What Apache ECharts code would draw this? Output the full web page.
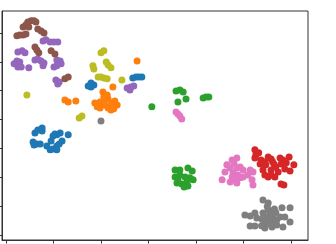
<!DOCTYPE html>
<html>
<head>
<meta charset="utf-8">
<script src="https://cdn.jsdelivr.net/npm/echarts@6/dist/echarts.min.js"></script>
<style>html,body{margin:0;padding:0;background:#fff}#c{width:336px;height:244px}</style>
</head>
<body>
<div id="c"></div>
<script>
const xTicks = [0, 10, 20, 30, 40, 50, 60];
const yTicks = [0, 10, 20, 30, 40, 50, 60, 70];
const seriesNames = ['blue', 'orange', 'green', 'red', 'purple', 'brown', 'pink', 'gray', 'olive'];
const colors = ['#1f77b4', '#ff7f0e', '#2ca02c', '#d62728', '#9467bd', '#8c564b', '#e377c2', '#7f7f7f', '#bcbd22'];

const blue = [[17.3,51.6],[17.9,52.7],[18.5,52.0],[17.9,51.3],[26.7,54.4],[27.4,54.7],[28.0,54.7],[28.6,54.7],
  [6.7,36.4],[7.6,36.0],[7.6,37.1],[6.1,35.3],[5.7,32.2],[6.5,31.5],[5.9,31.2],[7.2,31.5],[8.6,30.8],[9.3,29.5],
  [9.9,29.8],[10.7,30.8],[11.2,31.5],[11.8,32.6],[10.7,34.7],[9.9,34.3],[10.3,35.0],[11.4,35.3],[13.1,34.7],[9.5,32.6],[10.7,29.5]];
const orange = [[27.6,60.3],[22.5,51.3],[12.4,46.8],[13.1,46.1],[14.7,46.4],[20.4,49.5],[21.3,48.5],[20.8,46.8],[21.5,47.1],
  [19.8,46.1],[18.7,45.7],[19.2,44.4],[19.8,44.0],[20.4,45.0],[21.3,44.7],[21.9,44.4],[22.3,45.7],[22.9,46.4],[23.4,45.0],
  [22.7,43.7],[22.1,43.3],[21.5,44.0],[20.6,47.8]];
const green = [[30.7,44.4],[35.8,49.9],[36.6,50.2],[37.3,49.5],[36.2,46.1],[37.9,47.1],[41.5,47.5],[42.1,47.8],[42.7,47.8],
  [35.6,22.5],[36.6,22.5],[38.3,23.2],[39.2,22.2],[35.6,20.1],[36.6,20.8],[37.7,20.1],[38.7,19.8],[36.0,18.0],[37.0,17.7],
  [38.1,18.4],[39.4,19.1],[37.5,16.6],[36.2,19.4],[38.3,17.0]];
const red = [[52.4,29.5],[52.6,27.7],[52.4,26.7],[53.7,26.0],[53.5,24.6],[54.5,25.3],[55.2,27.0],[55.8,26.3],[56.4,24.6],
  [57.7,26.7],[58.3,26.0],[59.6,27.0],[60.6,24.3],[59.8,22.2],[58.7,22.9],[57.9,24.6],[56.8,23.6],[55.8,22.5],[54.7,24.3],
  [54.1,22.5],[54.5,20.8],[55.2,20.1],[55.8,20.8],[57.3,21.8],[56.6,20.1],[57.9,17.7],[58.5,17.3],[53.2,28.5],[56.1,25.5],[59.0,25.0]];
const purple = [[7.8,67.2],[8.4,67.6],[9.3,66.9],[10.1,66.9],[10.9,66.9],[2.5,63.4],[3.4,63.8],[4.0,63.1],[1.7,59.3],
  [2.3,60.3],[2.9,59.9],[2.5,58.2],[3.2,58.2],[4.8,57.9],[6.1,60.6],[6.7,61.0],[7.4,60.3],[8.0,59.6],[7.8,58.6],
  [10.7,60.6],[11.4,60.3],[11.6,59.3],[10.7,58.6],[10.1,58.2],[10.5,53.7],[11.2,53.0],[10.9,52.3],
  [25.5,50.9],[26.3,51.3],[26.9,51.6],[26.1,50.2]];
const brown = [[4.6,73.8],[5.3,74.2],[5.9,74.2],[6.3,73.8],[3.6,72.1],[4.2,72.8],[4.8,72.1],[2.3,69.0],[2.9,69.3],
  [3.6,69.3],[4.2,69.6],[6.7,71.4],[7.4,70.7],[8.0,70.0],[6.1,65.1],[6.5,64.1],[6.9,63.1],[9.5,63.8],[10.3,62.7],
  [12.4,54.1],[13.1,54.7]];
const pink = [[35.8,42.6],[36.2,41.9],[36.6,41.2],[37.0,40.2],[47.6,26.0],[48.6,26.7],[48.0,24.9],[46.5,24.3],[47.2,23.2],
  [48.6,23.2],[49.3,23.6],[49.9,22.5],[51.4,22.5],[52.0,21.8],[46.1,21.8],[47.8,21.5],[48.8,20.8],[47.6,20.1],[48.2,19.1],
  [49.3,19.8],[49.9,20.1],[50.9,20.8],[51.8,19.1],[47.2,18.4],[48.6,18.0],[45.5,19.1],[52.0,17.3]];
const gray = [[20.0,39.5],[54.1,12.1],[55.2,11.1],[50.3,6.9],[51.4,6.6],[52.4,7.6],[52.8,5.9],[51.4,3.1],[52.4,3.1],
  [54.1,7.6],[54.9,6.2],[55.6,8.0],[56.2,6.9],[54.5,4.5],[55.2,4.2],[56.0,5.2],[57.0,5.2],[54.5,2.4],[56.0,2.8],
  [57.0,3.5],[58.1,9.4],[59.8,9.4],[58.7,6.2],[59.8,4.5],[58.3,2.8],[57.7,6.2],[55.2,8.7],[53.9,5.5],
  [55.0,9.9],[56.5,9.0],[55.8,3.6],[53.8,3.2],[56.8,7.8]];
const olive = [[4.4,48.5],[20.0,63.1],[20.6,63.8],[18.3,58.6],[18.5,57.5],[21.1,59.9],[21.5,58.9],[22.1,57.9],
  [19.4,54.7],[20.0,54.7],[20.6,54.4],[21.3,54.1],[24.4,53.7],[15.4,40.5],[16.0,41.2]];

const allData = [blue, orange, green, red, purple, brown, pink, gray, olive];

const chart = echarts.init(document.getElementById('c'), null, {renderer: 'canvas'});
const axisCommon = {
  type: 'value',
  axisLine: {show: true, onZero: false, lineStyle: {color: '#333', width: 1}},
  axisLabel: {show: false},
  splitLine: {show: false}
};
chart.setOption({
  animation: false,
  backgroundColor: '#fff',
  grid: {left: 2, right: 28, top: 11, bottom: 4, show: true, borderColor: '#333', borderWidth: 1},
  xAxis: Object.assign({}, axisCommon, {
    min: -0.84, max: 63.58,
    axisTick: {show: true, inside: false, length: 3.5, lineStyle: {color: '#333'}, customValues: xTicks}
  }),
  yAxis: Object.assign({}, axisCommon, {
    min: -1.73, max: 77.6,
    axisTick: {show: true, inside: false, length: 3.5, lineStyle: {color: '#333'}, customValues: yTicks}
  }),
  series: allData.map((d, i) => ({
    name: seriesNames[i],
    type: 'scatter',
    data: d,
    symbolSize: 7,
    itemStyle: {color: colors[i], opacity: 1},
    emphasis: {disabled: true}
  }))
});
</script>
</body>
</html>
